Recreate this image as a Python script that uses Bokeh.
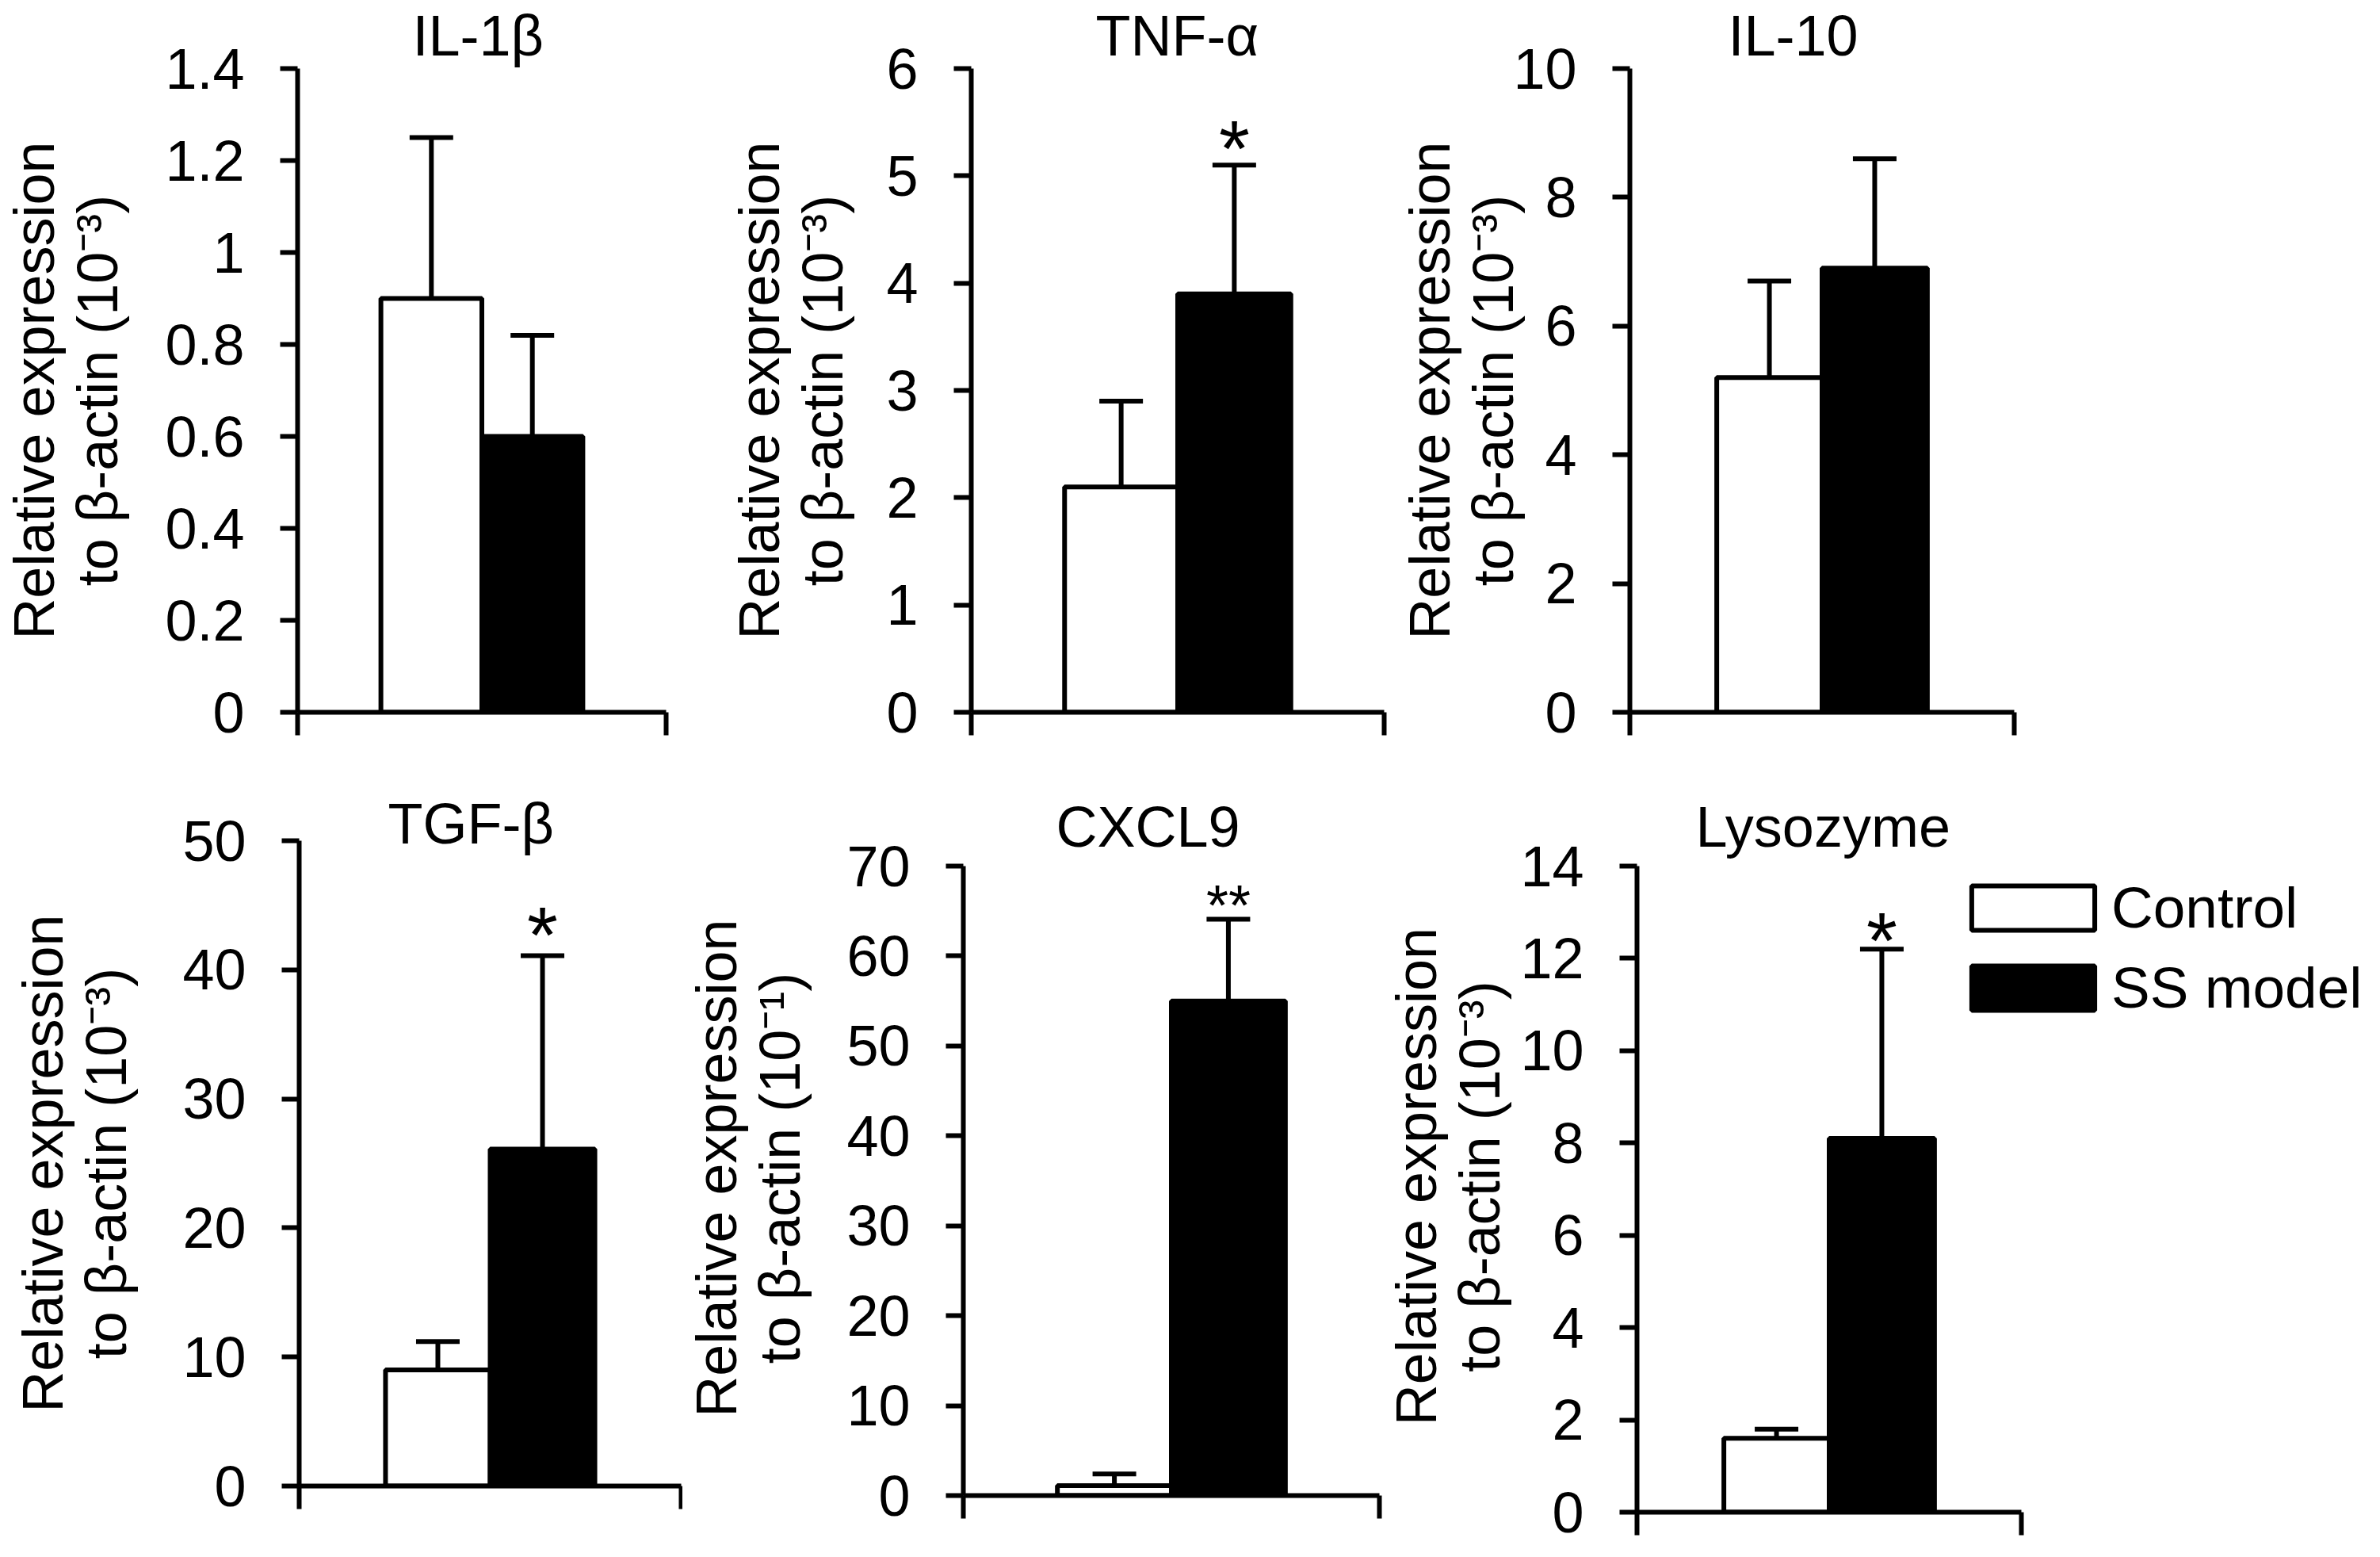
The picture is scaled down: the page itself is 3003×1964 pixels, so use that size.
from bokeh.plotting import figure
from bokeh.models import (Range1d, FixedTicker, ColumnDataSource, Whisker, TeeHead,
                          Legend, LegendItem, NumeralTickFormatter)
from bokeh.layouts import row, column
from bokeh.embed import file_html
from bokeh.resources import INLINE
from bokeh.core.properties import value

# ---------------- data ----------------
genes = ["IL-1β", "TNF-α", "IL-10", "TGF-β", "CXCL9", "Lysozyme"]
groups = ["Control", "SS model"]
control_mean = [0.90, 2.10, 5.20, 9.0, 1.1, 1.6]
control_sd = [0.35, 0.80, 1.50, 2.2, 1.3, 0.2]
ss_mean = [0.60, 3.90, 6.90, 26.1, 55.0, 8.1]
ss_sd = [0.22, 1.20, 1.70, 15.0, 9.1, 4.1]
significance = ["", "*", "", "*", "**", "*"]
unit_exponent = ["10⁻³", "10⁻³", "10⁻³", "10⁻³", "10⁻¹", "10⁻³"]
y_ticks = [
    [0, 0.2, 0.4, 0.6, 0.8, 1.0, 1.2, 1.4],
    [0, 1, 2, 3, 4, 5, 6],
    [0, 2, 4, 6, 8, 10],
    [0, 10, 20, 30, 40, 50],
    [0, 10, 20, 30, 40, 50, 60, 70],
    [0, 2, 4, 6, 8, 10, 12, 14],
]

# ---------------- style ----------------
FONT = "Liberation Sans"
LW = 6
X_PAD = 0.825  # category padding beyond the two bars
# bl/br/bt/bb: borders, fw/fh: frame size, aw: pixel length of x axis line,
# th: pixel height from 0 to top tick, lab_so: axis label standoff
PANEL = [
    dict(bl=375, fw=465, aw=465, br=40, bt=86, fh=812, th=812, bb=40, lab_so=42, t_off=145, t_so=4, star_fs="100px", star_dy=-21),
    dict(bl=345, fw=521, aw=521, br=9, bt=86, fh=812, th=812, bb=40, lab_so=37, t_off=157, t_so=4, star_fs="100px", star_dy=-21),
    dict(bl=301, fw=485, aw=485, br=446, bt=86, fh=812, th=812, bb=40, lab_so=-18, t_off=124, t_so=4, star_fs="100px", star_dy=-21),
    dict(bl=377, fw=482, aw=482, br=2, bt=122, fh=814, th=814, bb=74, lab_so=53, t_off=112, t_so=-36, star_fs="100px", star_dy=-26),
    dict(bl=354, fw=525, aw=525, br=4, bt=122, fh=826, th=794, bb=62, lab_so=41, t_off=117, t_so=-44, star_fs="72px", star_dy=-17),
    dict(bl=321, fw=920, aw=485, br=1, bt=122, fh=847, th=815, bb=41, lab_so=8, t_off=74, t_so=-44, star_fs="100px", star_dy=-11),
]


def make_panel(i):
    s = PANEL[i]
    n = len(groups)
    x0 = -0.5 - X_PAD
    x1 = n - 0.5 + X_PAD
    x_end = x0 + (x1 - x0) * s["fw"] / s["aw"]
    y_top = y_ticks[i][-1]
    y_end = y_top * s["fh"] / s["th"]
    p = figure(frame_width=s["fw"], frame_height=s["fh"],
               min_border_left=s["bl"], min_border_right=s["br"],
               min_border_top=s["bt"], min_border_bottom=s["bb"],
               x_range=Range1d(x0, x_end),
               y_range=Range1d(0, y_end),
               title=genes[i], tools="",
               output_backend="svg", toolbar_location=None)
    p.background_fill_color = "white"
    p.border_fill_color = "white"
    p.outline_line_color = None
    p.xgrid.visible = False
    p.ygrid.visible = False

    p.title.align = "left"
    p.title.offset = s["t_off"]
    p.title.standoff = s["t_so"]
    p.title.text_font = FONT
    p.title.text_font_size = "72px"
    p.title.text_font_style = "normal"
    p.title.text_color = "black"

    src = ColumnDataSource(dict(
        x=list(range(n)),
        group=groups,
        mean=[control_mean[i], ss_mean[i]],
        upper=[control_mean[i] + control_sd[i], ss_mean[i] + ss_sd[i]],
        color=["white", "black"],
    ))
    bars = p.vbar(x="x", top="mean", bottom=0, width=1, source=src,
                  fill_color="color", line_color="black", line_width=LW)
    p.add_layout(Whisker(source=src, base="x", lower="mean", upper="upper",
                         line_color="black", line_width=LW,
                         upper_head=TeeHead(size=55, line_color="black", line_width=LW),
                         lower_head=None))
    if significance[i]:
        p.text(x=[n - 1], y=[ss_mean[i] + ss_sd[i]], text=[significance[i]],
               text_align="center", text_baseline="alphabetic",
               text_font=value(FONT), text_font_size=s["star_fs"],
               text_color="black", y_offset=s["star_dy"])

    # x axis: plain line with end ticks
    xa = p.xaxis[0]
    xa.bounds = (x0, x1)
    xa.ticker = FixedTicker(ticks=[x0, x1])
    xa.major_tick_in = 0
    xa.major_tick_out = 29
    xa.minor_tick_line_color = None
    xa.major_label_text_color = None
    xa.major_label_text_font_size = "1px"
    xa.major_label_standoff = 0
    xa.axis_line_width = LW
    xa.major_tick_line_width = LW
    xa.axis_line_color = "black"
    xa.major_tick_line_color = "black"

    ya = p.yaxis[0]
    ya.bounds = (0, y_top)
    ya.ticker = FixedTicker(ticks=y_ticks[i])
    ya.formatter = NumeralTickFormatter(format="0.[0]")
    ya.major_tick_in = 0
    ya.major_tick_out = 22
    ya.minor_tick_line_color = None
    ya.axis_line_width = LW
    ya.major_tick_line_width = LW
    ya.axis_line_color = "black"
    ya.major_tick_line_color = "black"
    ya.major_label_standoff = 45
    ya.major_label_text_font = FONT
    ya.major_label_text_font_size = "72px"
    ya.major_label_text_color = "black"
    ya.axis_label = "Relative expression\nto β-actin (" + unit_exponent[i] + ")"
    ya.axis_label_text_font = FONT
    ya.axis_label_text_font_size = "72px"
    ya.axis_label_text_font_style = "normal"
    ya.axis_label_text_line_height = 1.0
    ya.axis_label_text_color = "black"
    ya.axis_label_standoff = s["lab_so"]
    return p, bars


panels = [make_panel(i) for i in range(len(genes))]

# legend in the last panel (its frame is widened, the x axis is bounded)
p_last, bars_last = panels[-1]
legend = Legend(
    items=[LegendItem(label=groups[k], renderers=[bars_last], index=k) for k in range(len(groups))],
    location=(403, 620),
    glyph_width=194, glyph_height=70,
    label_standoff=2, spacing=18, padding=0, margin=0,
    border_line_color=None, background_fill_alpha=0,
    label_text_font=FONT, label_text_font_size="73px", label_text_color="black",
)
p_last.add_layout(legend)

layout = column(
    row(*[pp for pp, _ in panels[:3]], spacing=0),
    row(*[pp for pp, _ in panels[3:]], spacing=0),
    spacing=0,
)

open("out.html", "w").write(file_html(layout, INLINE))
